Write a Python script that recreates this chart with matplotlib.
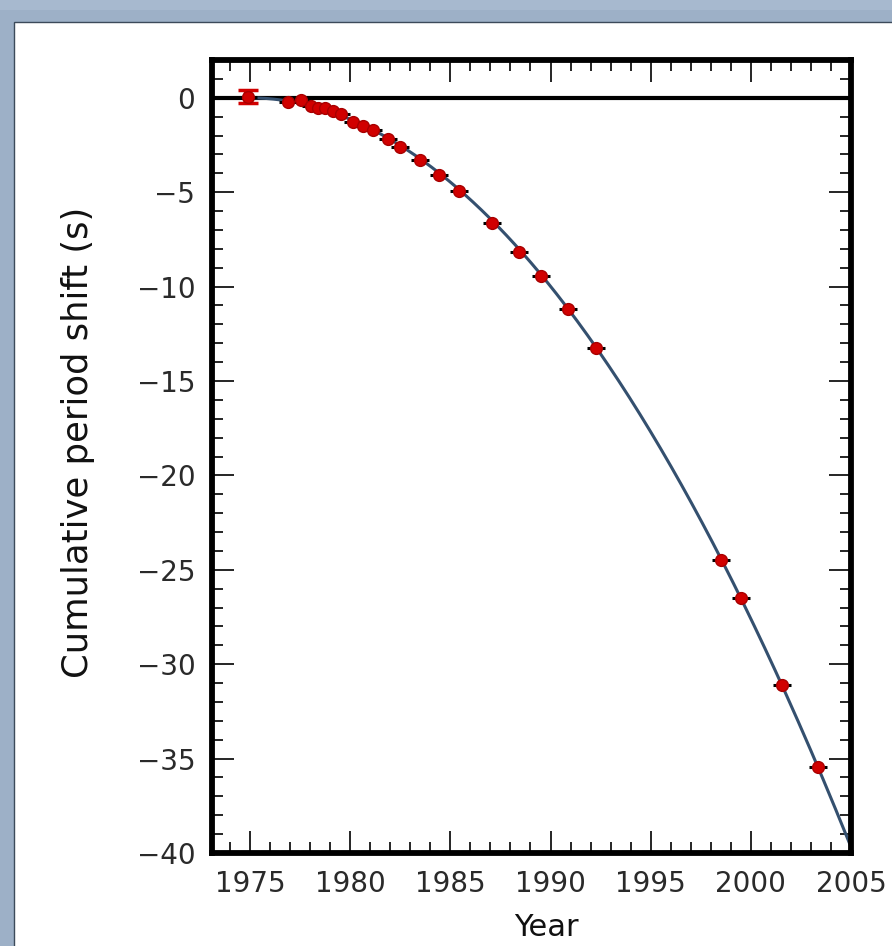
import matplotlib
matplotlib.use('Agg')
import numpy as np
import matplotlib.pyplot as plt
from matplotlib.patches import Rectangle
from matplotlib.ticker import MultipleLocator

OBS_YEAR = [1974.9, 1976.9, 1977.55, 1978.05, 1978.4, 1978.75, 1979.15, 1979.55,
            1980.15, 1980.65, 1981.15, 1981.9, 1982.5, 1983.5, 1984.45, 1985.45,
            1987.1, 1988.45, 1989.5, 1990.85, 1992.25, 1998.5, 1999.5, 2001.55, 2003.35]
OBS_SHIFT = [0.05, -0.25, -0.1, -0.42, -0.53, -0.53, -0.69, -0.85,
             -1.27, -1.48, -1.7, -2.17, -2.6, -3.28, -4.08, -4.93,
             -6.62, -8.16, -9.43, -11.18, -13.24, -24.47, -26.48, -31.09, -35.43]
OBS_XERR = [0.45] * len(OBS_YEAR)

# General relativity prediction: quadratic shift from the reference epoch
GR_REF_YEAR = 1974.9
GR_RATE = 0.0438   # s / yr^2
GR_END_YEAR = 2006.0

X_TICKS = [1975, 1980, 1985, 1990, 1995, 2000, 2005]
Y_TICKS = [0, -5, -10, -15, -20, -25, -30, -35, -40]

W, H = 892, 946
fig = plt.figure(figsize=(W / 100, H / 100), dpi=100, facecolor='#9db0c7')

# window-like frame around a white panel (kept behind the axes)
fig.patches.append(Rectangle((0, 1 - 10 / H), 1, 10 / H, transform=fig.transFigure,
                             facecolor='#a7b9cf', edgecolor='none', zorder=-3))
fig.patches.append(Rectangle((14 / W, -0.01), 1, 1.01 - 22 / H, transform=fig.transFigure,
                             facecolor='white', edgecolor='#3c4a5a', linewidth=1.0, zorder=-2))

ax = fig.add_axes([212 / W, 1 - 853 / H, (851 - 212) / W, (853 - 60) / H])
ax.set_facecolor('white')

t = np.linspace(GR_REF_YEAR, GR_END_YEAR, 300)
ax.plot(t, -GR_RATE * (t - GR_REF_YEAR) ** 2, color='#34506f', lw=2.2, zorder=2)
ax.axhline(0, color='black', lw=3.0, zorder=1)

ax.errorbar(OBS_YEAR, OBS_SHIFT, xerr=OBS_XERR, fmt='o', ms=8.5,
            mfc='#d10000', mec='#a80000', mew=1.0, ecolor='black', elinewidth=2.2,
            capsize=0, zorder=3)
ax.errorbar(OBS_YEAR[:1], OBS_SHIFT[:1], yerr=[0.35], fmt='none',
            ecolor='#d10000', elinewidth=6, capsize=7, capthick=2.5, zorder=3)

ax.set_xlim(1973.1, 2005)
ax.set_ylim(-40, 2)
ax.set_xticks(X_TICKS)
ax.set_yticks(Y_TICKS)
ax.xaxis.set_minor_locator(MultipleLocator(1))
ax.yaxis.set_minor_locator(MultipleLocator(1))

for s in ax.spines.values():
    s.set_linewidth(4.2)
ax.tick_params(which='both', direction='in', top=True, right=True, colors='black',
               labelcolor='#2a2a2a', labelsize=20)
ax.tick_params(which='major', length=16, width=1.2, pad=12)
ax.tick_params(which='minor', length=8, width=1.2)

ax.set_xlabel('Year', fontsize=22, color='#111111')
ax.xaxis.set_label_coords(0.523, -0.076)
ax.set_ylabel('Cumulative period shift (s)', fontsize=25.5, color='#111111')
ax.yaxis.set_label_coords(-0.183, 0.518)

fig.savefig('out.png', dpi=100, facecolor=fig.get_facecolor())
